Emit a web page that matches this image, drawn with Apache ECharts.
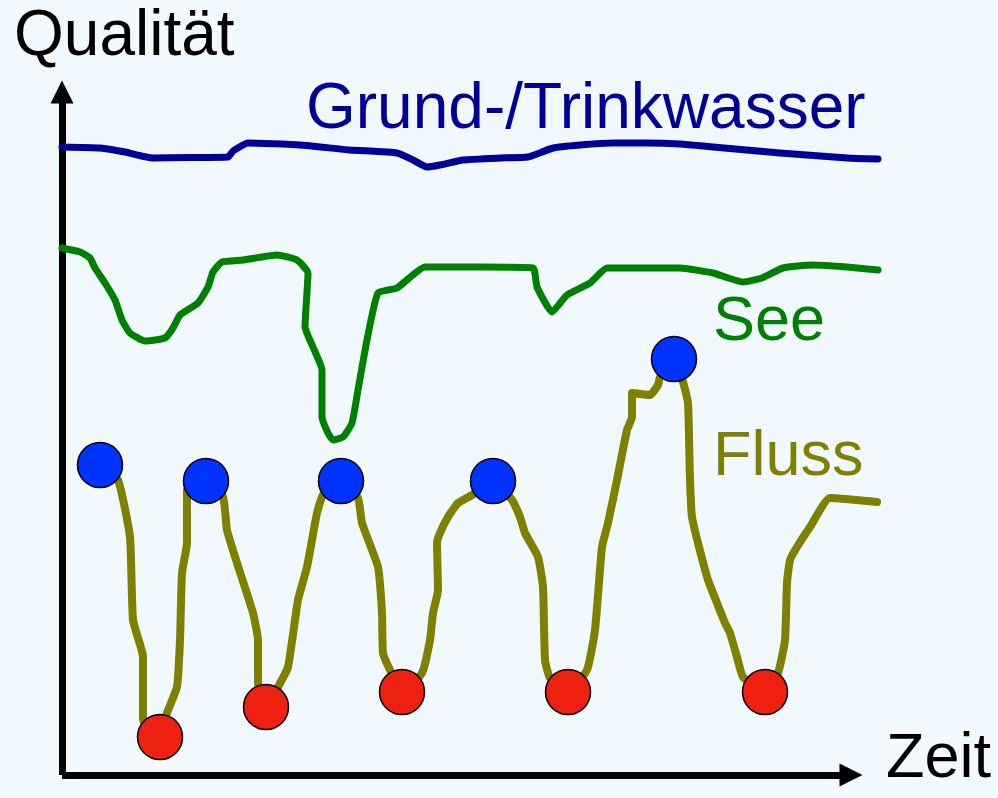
<!DOCTYPE html>
<html>
<head>
<meta charset="utf-8">
<script src="https://cdn.jsdelivr.net/npm/echarts@6/dist/echarts.min.js"></script>
<style>
html,body{margin:0;padding:0;background:#f1f8fe;}
#chart{width:998px;height:798px;}
</style>
</head>
<body>
<div id="chart"></div>
<script>
// Axis titles and series names
const axisTitleY = 'Qualität';
const axisTitleX = 'Zeit';
const seriesNames = ['Grund-/Trinkwasser', 'See', 'Fluss'];

// Grund-/Trinkwasser: [Zeit, Qualität]
const grundwasser = [[0,628],[38,627],[63,623],[91,617],[128,617.5],[166,618],[171,624],[186,632],[238,630],[288,625],[335,622],[351,615],[365,608],[378,610],[401,615],[438,617],[466,618],[491,627],[518,630],[551,632],[585,632],[618,631],[651,628],[718,622],[785,617],[816,616]];

// See
const see = [[0,527],[18,523],[28,517],[33,507],[43,492],[53,475],[60,455],[68,442],[83,434],[103,437],[111,447],[118,460],[136,472],[146,488],[151,503],[160,513],[181,515],[215,520],[235,515],[246,502],[243,448],[251,428],[260,405],[260,358],[266,342],[271,335],[281,338],[290,352],[296,385],[305,435],[316,482],[335,487],[363,508],[418,508],[471,507],[475,488],[490,463],[505,480],[528,492],[545,507],[618,507],[651,502],[681,493],[700,497],[721,507],[751,510],[785,508],[816,505]];

// Fluss
const fluss = [[38,310],[56,295],[68,238],[71,155],[81,118],[81,55],[98,38],[105,62],[115,88],[118,135],[120,202],[125,232],[125,285],[144,294],[161,278],[165,245],[175,212],[191,162],[196,135],[196,92],[204,68],[216,88],[226,108],[236,175],[245,208],[255,262],[261,280],[279,294],[296,277],[300,252],[316,208],[320,162],[321,122],[328,105],[340,83],[360,102],[368,135],[371,162],[376,185],[375,232],[378,242],[386,258],[396,272],[410,280],[431,294],[450,275],[458,258],[463,242],[476,218],[481,188],[483,115],[488,97],[506,83],[525,105],[533,145],[540,228],[546,252],[555,295],[565,345],[570,358],[570,382],[588,380],[596,390],[598,398],[612,416],[621,393],[626,372],[628,295],[630,258],[636,232],[646,195],[655,172],[663,152],[668,142],[675,118],[681,98],[703,83],[716,102],[723,135],[725,192],[728,215],[735,228],[748,248],[768,277],[815,273]];

// Fluss extreme points
const flussHoch = [[38,310],[144,294],[279,294],[431,294],[612,416]];
const flussTief = [[98,38],[204,68],[340,83],[506,83],[703,83]];

// Axis extents
const zeitMax = 816;     // data extent of the time axis
const zeitArrow = 789;   // where the drawn time arrow ends
const qualMax = 683;

const chart = echarts.init(document.getElementById('chart'), null, {renderer:'canvas'});
const FONT = 'Liberation Sans, Arial, sans-serif';
const axisLine = {
  show: true,
  symbol: ['none', 'triangle'],
  symbolSize: [23, 23],
  lineStyle: {color: '#000', width: 7, cap: 'butt'}
};
const hidden = {axisLine: {show: false}, axisTick: {show: false}, axisLabel: {show: false}, splitLine: {show: false}};
const lineCommon = {
  type: 'line', showSymbol: false, silent: true, z: 2, xAxisIndex: 0, yAxisIndex: 0,
  smooth: 0.15
};
chart.setOption({
  backgroundColor: '#f1f8fe',
  animation: false,
  grid: [
    {left: 62, right: 120, top: 92, bottom: 23},
    {left: 62, right: 147, top: 92, bottom: 23}
  ],
  xAxis: [
    Object.assign({type: 'value', gridIndex: 0, min: 0, max: zeitMax}, hidden),
    {type: 'value', gridIndex: 1, min: 0, max: zeitArrow, axisLine: axisLine,
      axisTick: {show: false}, axisLabel: {show: false}, splitLine: {show: false}}
  ],
  yAxis: [
    Object.assign({type: 'value', gridIndex: 0, min: 0, max: qualMax}, hidden),
    {type: 'value', gridIndex: 1, min: 0, max: qualMax, axisLine: axisLine,
      axisTick: {show: false}, axisLabel: {show: false}, splitLine: {show: false}}
  ],
  series: [
    Object.assign({}, lineCommon, {name: seriesNames[0], data: grundwasser,
      lineStyle: {color: '#000099', width: 7, cap: 'round', join: 'round'}}),
    Object.assign({}, lineCommon, {name: seriesNames[1], data: see,
      lineStyle: {color: '#008000', width: 7, cap: 'round', join: 'round'}}),
    Object.assign({}, lineCommon, {name: seriesNames[2], data: fluss,
      lineStyle: {color: '#808000', width: 8, cap: 'round', join: 'round'}}),
    {type: 'scatter', data: flussHoch, symbolSize: 45, z: 3, silent: true, xAxisIndex: 0, yAxisIndex: 0,
      itemStyle: {color: '#0033ff', borderColor: '#000', borderWidth: 1.5, opacity: 1}},
    {type: 'scatter', data: flussTief, symbolSize: 45, z: 3, silent: true, xAxisIndex: 0, yAxisIndex: 0,
      itemStyle: {color: '#ee2010', borderColor: '#000', borderWidth: 1.5, opacity: 1}}
  ],
  graphic: [
    {type: 'text', left: 14, top: 5, style: {text: axisTitleY, fill: '#000', font: '64px ' + FONT}},
    {type: 'text', left: 886, top: 728, style: {text: axisTitleX, fill: '#000', font: '63px ' + FONT}},
    {type: 'text', left: 306, top: 78, style: {text: seriesNames[0], fill: '#000099', font: '64px ' + FONT}},
    {type: 'text', left: 713, top: 291, style: {text: seriesNames[1], fill: '#008000', font: '63px ' + FONT}},
    {type: 'text', left: 713, top: 426, style: {text: seriesNames[2], fill: '#808000', font: '63px ' + FONT}}
  ]
});
</script>
</body>
</html>
